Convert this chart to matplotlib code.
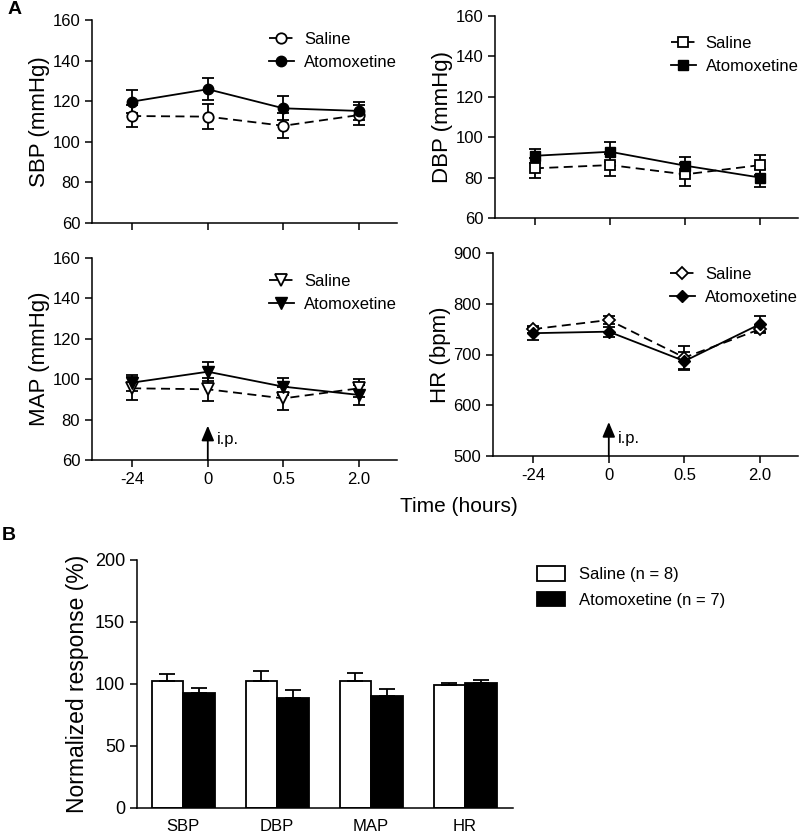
import numpy as np
import matplotlib
matplotlib.use('Agg')
import matplotlib.pyplot as plt

plt.rcParams['font.family'] = ['Liberation Sans', 'DejaVu Sans']
plt.rcParams['axes.linewidth'] = 1.1

# ---- data (panel A) ----
time_labels = ['-24', '0', '0.5', '2.0']

sbp_saline = [112.7, 112.4, 107.9, 113.2]
sbp_saline_err = [5.5, 6.0, 6.2, 5.0]
sbp_atomox = [119.8, 125.9, 116.5, 115.2]
sbp_atomox_err = [5.7, 5.5, 6.0, 4.5]

dbp_saline = [84.6, 86.2, 81.6, 86.2]
dbp_saline_err = [5.0, 5.3, 5.8, 5.0]
dbp_atomox = [90.8, 92.8, 85.9, 80.0]
dbp_atomox_err = [3.5, 5.0, 4.5, 4.5]

map_saline = [95.5, 95.0, 90.5, 95.5]
map_saline_err = [5.8, 5.6, 5.7, 4.5]
map_atomox = [98.3, 103.7, 96.3, 92.2]
map_atomox_err = [4.0, 4.7, 4.2, 5.0]

hr_saline = [750, 768, 694, 750]
hr_saline_err = [7, 8, 22, 8]
hr_atomox = [742, 745, 687, 760]
hr_atomox_err = [13, 10, 17, 16]

# ---- data (panel B) ----
categories = ['SBP', 'DBP', 'MAP', 'HR']
norm_saline = [102.4, 102.4, 102.4, 99.2]
norm_saline_err = [5.8, 8.0, 6.8, 1.6]
norm_atomox = [92.5, 88.5, 90.0, 100.8]
norm_atomox_err = [4.3, 6.6, 6.0, 2.2]

W, H = 800, 834
fig = plt.figure(figsize=(W / 100, H / 100), dpi=100)


def box(l, t, r, b):
    return [l / W, 1 - b / H, (r - l) / W, (b - t) / H]


def line_panel(rect, sal, sal_e, ato, ato_e, marker, ylim, yticks, ylabel,
               show_xlabels, leg_anchor, msize=7.5):
    ax = fig.add_axes(rect)
    x = np.arange(len(sal))
    eb = dict(fmt='none', ecolor='black', capsize=4, elinewidth=1.3,
              capthick=1.3)
    ax.errorbar(x, sal, yerr=sal_e, **eb)
    ax.errorbar(x, ato, yerr=ato_e, **eb)
    ax.plot(x, sal, color='black', lw=1.3, ls=(0, (5, 3)), marker=marker,
            mfc='white', mec='black', mew=1.3, ms=msize, label='Saline')
    ax.plot(x, ato, color='black', lw=1.3, marker=marker, mfc='black',
            mec='black', ms=msize, label='Atomoxetine')
    ax.set_xlim(-0.53, 3.5)
    ax.set_ylim(*ylim)
    ax.set_yticks(yticks)
    ax.set_xticks(x)
    if show_xlabels:
        ax.set_xticklabels(time_labels)
    else:
        ax.set_xticklabels([])
    ax.tick_params(labelsize=12, length=5, width=1.1, direction='out')
    ax.spines['top'].set_visible(False)
    ax.spines['right'].set_visible(False)
    ax.set_ylabel(ylabel, fontsize=16, labelpad=2)
    ax.legend(loc='upper left', bbox_to_anchor=leg_anchor, frameon=False,
              fontsize=12, handlelength=1.5, handletextpad=0.6,
              labelspacing=0.45, borderpad=0, borderaxespad=0)
    return ax


line_panel(box(92, 20, 397, 223), sbp_saline, sbp_saline_err, sbp_atomox,
           sbp_atomox_err, 'o', (60, 160), range(60, 161, 20), 'SBP (mmHg)',
           False, (0.58, 0.94))
line_panel(box(495, 16, 798, 218), dbp_saline, dbp_saline_err, dbp_atomox,
           dbp_atomox_err, 's', (60, 160), range(60, 161, 20), 'DBP (mmHg)',
           False, (0.58, 0.9), msize=7)
ax_map = line_panel(box(92, 258, 397, 460), map_saline, map_saline_err,
                    map_atomox, map_atomox_err, 'v', (60, 160),
                    range(60, 161, 20), 'MAP (mmHg)', True, (0.58, 0.92),
                    msize=8)
ax_hr = line_panel(box(493, 253, 798, 456), hr_saline, hr_saline_err,
                   hr_atomox, hr_atomox_err, 'D', (500, 900),
                   range(500, 901, 100), 'HR (bpm)', True, (0.58, 0.93),
                   msize=6.5)

for ax, base, tip, txt in [(ax_map, 60, 77, 70), (ax_hr, 500, 567, 535)]:
    ax.annotate('', xy=(1, tip), xytext=(1, base),
                arrowprops=dict(arrowstyle='-|>,head_length=0.9,head_width=0.38',
                                color='black', lw=1.3, shrinkA=0, shrinkB=0))
    ax.text(1.12, txt, 'i.p.', fontsize=12, va='center', ha='left')

fig.text(459 / W, 1 - 507 / H, 'Time (hours)', fontsize=15, ha='center',
         va='center')
fig.text(8 / W, 1 - 10 / H, 'A', fontsize=14, fontweight='bold',
         ha='left', va='center')
fig.text(2 / W, 1 - 535 / H, 'B', fontsize=14, fontweight='bold',
         ha='left', va='center')

# ---- panel B ----
axb = fig.add_axes(box(137, 560, 513, 808))
xb = np.arange(len(categories))
w = 0.335
axb.bar(xb - w / 2, norm_saline, w, color='white', edgecolor='black', lw=1.3,
        yerr=[[0] * 4, norm_saline_err], capsize=6,
        error_kw=dict(elinewidth=1.3, capthick=1.3), label='Saline (n = 8)')
axb.bar(xb + w / 2, norm_atomox, w, color='black', edgecolor='black', lw=1.3,
        yerr=[[0] * 4, norm_atomox_err], capsize=6,
        error_kw=dict(elinewidth=1.3, capthick=1.3),
        label='Atomoxetine (n = 7)')
axb.set_xlim(-0.49, 3.51)
axb.set_ylim(0, 200)
axb.set_yticks(range(0, 201, 50))
axb.set_xticks(xb)
axb.set_xticklabels(categories)
axb.tick_params(axis='y', labelsize=13, length=5, width=1.1)
axb.tick_params(axis='x', labelsize=12, length=0, pad=8)
axb.spines['top'].set_visible(False)
axb.spines['right'].set_visible(False)
axb.set_ylabel('Normalized response (%)', fontsize=16.5, labelpad=4)
axb.legend(loc='upper left', bbox_to_anchor=(1.064, 0.975), frameon=False,
           fontsize=12, handlelength=1.7, handleheight=1.0,
           handletextpad=0.8, labelspacing=0.55, borderpad=0, borderaxespad=0)

fig.savefig('out.png', dpi=100)
